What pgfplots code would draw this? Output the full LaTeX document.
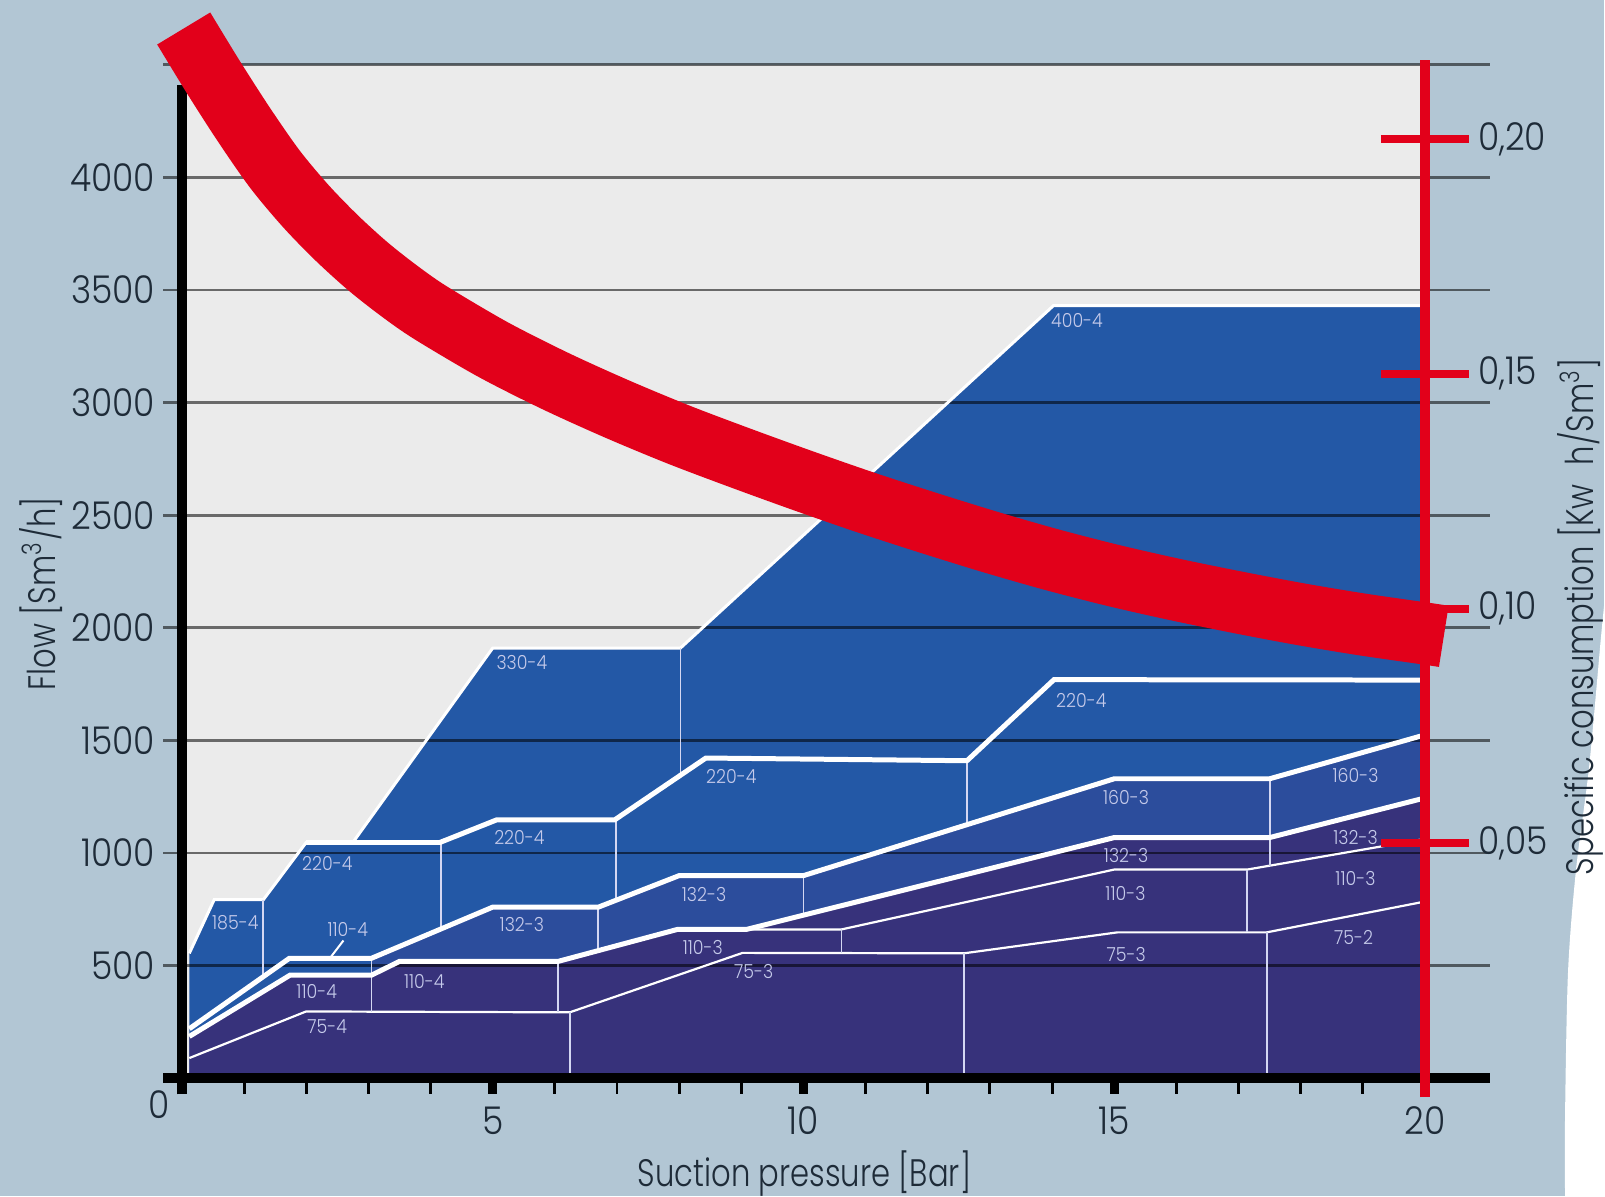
\documentclass[border=0pt]{standalone}
\usepackage{fontspec}
\setmainfont{Poppins Light}[FakeStretch=0.9]
\newfontfamily\titlefont{Poppins Light}[FakeStretch=0.8]
\usepackage{pgfplots}
\pgfplotsset{compat=1.18}

\definecolor{bgc}{HTML}{B2C6D4}
\definecolor{plotgrey}{HTML}{EBEBEB}
\definecolor{blue4}{HTML}{2358A6}
\definecolor{mid3}{HTML}{2C4D9C}
\definecolor{dark3}{HTML}{37327B}
\definecolor{labc}{HTML}{C5CAEA}
\definecolor{vline}{HTML}{D4D7F2}
\definecolor{redc}{HTML}{E2001A}
\definecolor{textc}{HTML}{1E2B38}

\newcommand{\axfont}{\fontsize{10.9}{12}\selectfont}
\newcommand{\ttlfont}{\titlefont\fontsize{10.9}{12}\selectfont}
\tikzset{lab/.style={font=\fontsize{5.5}{6}\selectfont, text=labc, inner sep=0pt}}

\begin{document}
\begin{tikzpicture}[x=1cm,y=1cm]
\fill[bgc] (0,0) rectangle (16.05,11.97);
\fill[white] plot[smooth] coordinates {(16.06,6.0) (16.02,5.6) (15.90,4.29) (15.77,3.27) (15.69,2.25) (15.66,0.8) (15.66,0)}
  -- (16.06,0) -- cycle;
\path[use as bounding box] (0,0) rectangle (16.05,11.97);

\begin{axis}[
  at={(1.633cm,1.18cm)}, anchor=south west,
  scale only axis, width=13.28cm, height=10.143cm,
  xmin=-0.3, xmax=21.05, ymin=0, ymax=4500,
  clip=false,
  axis line style={draw=none},
  tick style={draw=none},
  xtick={5,10,15,20}, xticklabels={5,10,15,20},
  ytick={500,1000,...,4000},
  yticklabels={500,1000,1500,2000,2500,3000,3500,4000},
  xticklabel pos=lower, yticklabel pos=left,
  ticklabel style={font=\axfont, text=textc, inner sep=0pt},
  xticklabel style={anchor=north, yshift=-0.28cm},
  yticklabel style={anchor=east, xshift=-0.073cm},
  /pgf/number format/assume math mode=true,
]
% plot area
\addplot[fill=plotgrey, draw=none] coordinates {(0,0) (0,4500) (20,4500) (20,0)} -- cycle;

% outer envelope (4-stage units)
\addplot[fill=blue4, draw=none] coordinates {
  (0.12,0) (0.12,555) (0.52,793) (1.31,793) (2.0,1047) (2.75,1047)
  (5.0,1910) (8.02,1910) (14.02,3430) (20,3430) (20,0)} -- cycle;
% 3-stage band (132-3 / 160-3)
\addplot[fill=mid3, draw=none] coordinates {
  (3.05,0) (3.05,533) (5.0,760) (6.7,760) (8.0,900) (10.0,900)
  (15.0,1330) (17.5,1330) (20,1525) (20,0)} -- cycle;
% lower units
\addplot[fill=dark3, draw=none] coordinates {
  (0.12,0) (0.12,186) (1.74,458) (3.05,458) (3.5,519) (6.05,519)
  (7.97,661) (9.08,661) (15.0,1069) (17.5,1069) (20,1245) (20,0)} -- cycle;

% grid
\pgfplotsinvokeforeach{500,1000,...,4500}{
  \addplot[black, opacity=0.55, line width=0.027cm] coordinates {(-0.3,#1) (21.05,#1)};
}

% thin separators
\addplot[white, line width=0.03cm] coordinates {
  (0.12,555) (0.52,793) (1.31,793) (2.0,1047) (2.75,1047)
  (5.0,1910) (8.02,1910) (14.02,3430) (20,3430)};
\addplot[white, line width=0.022cm] coordinates {
  (9.08,661) (10.61,661) (15.0,927) (17.14,927) (20,1063)};
\addplot[white, line width=0.022cm] coordinates {
  (0.12,90) (2.0,297) (6.24,293) (9.02,557) (12.58,555)
  (15.05,648) (17.45,648) (20,785)};
\addplot[vline, line width=0.018cm] coordinates {(1.31,793) (1.31,450)};
\addplot[vline, line width=0.018cm] coordinates {(3.05,533) (3.05,296)};
\addplot[vline, line width=0.018cm] coordinates {(4.17,1047) (4.17,666)};
\addplot[vline, line width=0.018cm] coordinates {(6.05,519) (6.05,293)};
\addplot[vline, line width=0.018cm] coordinates {(6.24,293) (6.24,0)};
\addplot[vline, line width=0.018cm] coordinates {(6.7,760) (6.7,567)};
\addplot[vline, line width=0.018cm] coordinates {(6.98,1147) (6.98,790)};
\addplot[vline, line width=0.018cm] coordinates {(8.02,1910) (8.02,1346)};
\addplot[vline, line width=0.018cm] coordinates {(10.0,900) (10.0,726)};
\addplot[vline, line width=0.018cm] coordinates {(10.61,661) (10.61,557)};
\addplot[vline, line width=0.018cm] coordinates {(12.58,555) (12.58,0)};
\addplot[vline, line width=0.018cm] coordinates {(12.63,1410) (12.63,1126)};
\addplot[vline, line width=0.018cm] coordinates {(17.14,927) (17.14,648)};
\addplot[vline, line width=0.018cm] coordinates {(17.5,1330) (17.5,944)};
\addplot[vline, line width=0.018cm] coordinates {(17.45,648) (17.45,0)};
\addplot[white, line width=0.02cm] coordinates {(2.6,612) (2.4,540)};

% thick white boundaries
\addplot[white, line width=0.05cm] coordinates {
  (2.0,1047) (4.15,1047) (5.06,1147) (6.96,1147) (8.43,1422)
  (12.63,1410) (14.03,1770) (20,1768)};
\addplot[white, line width=0.05cm] coordinates {
  (0.12,220) (1.73,533) (3.05,533) (5.0,760) (6.7,760) (8.0,900)
  (10.0,900) (15.0,1330) (17.5,1330) (20,1525)};
\addplot[white, line width=0.05cm] coordinates {
  (0.12,186) (1.74,458) (3.05,458) (3.5,519) (6.05,519) (7.97,661)
  (9.08,661) (15.0,1069) (17.5,1069) (20,1245)};

% unit labels
\node[lab] at (axis cs:0.86,693) {185-4};
\node[lab] at (axis cs:2.34,953) {220-4};
\node[lab] at (axis cs:2.67,661) {110-4};
\node[lab] at (axis cs:2.17,387) {110-4};
\node[lab] at (axis cs:3.9,428) {110-4};
\node[lab] at (axis cs:2.34,228) {75-4};
\node[lab] at (axis cs:5.47,1846) {330-4};
\node[lab] at (axis cs:5.43,1071) {220-4};
\node[lab] at (axis cs:5.47,684) {132-3};
\node[lab] at (axis cs:8.84,1340) {220-4};
\node[lab] at (axis cs:8.4,816) {132-3};
\node[lab] at (axis cs:8.38,579) {110-3};
\node[lab] at (axis cs:9.2,474) {75-3};
\node[lab] at (axis cs:14.4,3364) {400-4};
\node[lab] at (axis cs:14.47,1677) {220-4};
\node[lab] at (axis cs:15.19,1249) {160-3};
\node[lab] at (axis cs:15.19,989) {132-3};
\node[lab] at (axis cs:15.18,820) {110-3};
\node[lab] at (axis cs:15.19,551) {75-3};
\node[lab] at (axis cs:18.88,1345) {160-3};
\node[lab] at (axis cs:18.88,1067) {132-3};
\node[lab] at (axis cs:18.88,889) {110-3};
\node[lab] at (axis cs:18.85,624) {75-2};

% black axes and ticks
\addplot[black, line width=0.1cm] coordinates {(-0.3,0) (21.05,0)};
\addplot[black, line width=0.1cm] coordinates {(0,-71) (0,4410)};
\pgfplotsinvokeforeach{1,2,3,4,6,7,8,9,11,12,13,14,16,17,18,19}{
  \addplot[black, line width=0.03cm] coordinates {(#1,0) (#1,-71)};
}
\pgfplotsinvokeforeach{5,10,15}{
  \addplot[black, line width=0.09cm] coordinates {(#1,0) (#1,-71)};
}
\end{axis}

\begin{axis}[
  at={(1.633cm,1.18cm)}, anchor=south west,
  scale only axis, width=13.28cm, height=10.143cm,
  xmin=-0.3, xmax=21.05, ymin=0, ymax=0.2158,
  hide axis, clip=false,
]
\addplot[redc, line width=0.1cm] coordinates {(20,-0.004) (20,0.2168)};
\pgfplotsinvokeforeach{0.05,0.10,0.15,0.20}{
  \addplot[redc, line width=0.08cm] coordinates {(19.29,#1) (20.71,#1)};
}
% specific consumption
\addplot[redc, line width=0.62cm, line cap=butt, smooth] coordinates {
  (0.03,0.2235) (0.5,0.2133) (1.0,0.2030) (1.5,0.1935) (2.0,0.1856)
  (2.5,0.1788) (3.0,0.1728) (3.5,0.1676) (4.0,0.1630) (5.0,0.1552)
  (6.0,0.1485) (7.0,0.1425) (8.0,0.1370) (9.0,0.1320) (10.0,0.1272)
  (11.0,0.1226) (12.0,0.1183) (13.0,0.1142) (14.0,0.1104) (15.0,0.1070)
  (16.0,0.1040) (17.0,0.1013) (18.0,0.0988) (19.0,0.0966) (20.0,0.0947)
  (20.3,0.0941)};
\node[anchor=west, inner sep=0pt, font=\axfont, text=textc] at (axis cs:20.84,0.20) {0,20};
\node[anchor=west, inner sep=0pt, font=\axfont, text=textc] at (axis cs:20.84,0.15) {0,15};
\node[anchor=west, inner sep=0pt, font=\axfont, text=textc] at (axis cs:20.84,0.10) {0,10};
\node[anchor=west, inner sep=0pt, font=\axfont, text=textc] at (axis cs:20.84,0.05) {0,05};
\end{axis}

\node[font=\axfont, text=textc] at (1.59,0.92) {0};
\node[font=\ttlfont, text=textc] at (8.05,0.23) {Suction pressure [Bar]};
\node[font=\ttlfont, text=textc, rotate=90] at (0.41,6.03) {Flow [Sm\textsuperscript{3}/h]};
\node[font=\ttlfont, text=textc, rotate=90] at (15.81,5.80) {Specific consumption [Kw\enspace h/Sm\textsuperscript{3}]};
\end{tikzpicture}
\end{document}
